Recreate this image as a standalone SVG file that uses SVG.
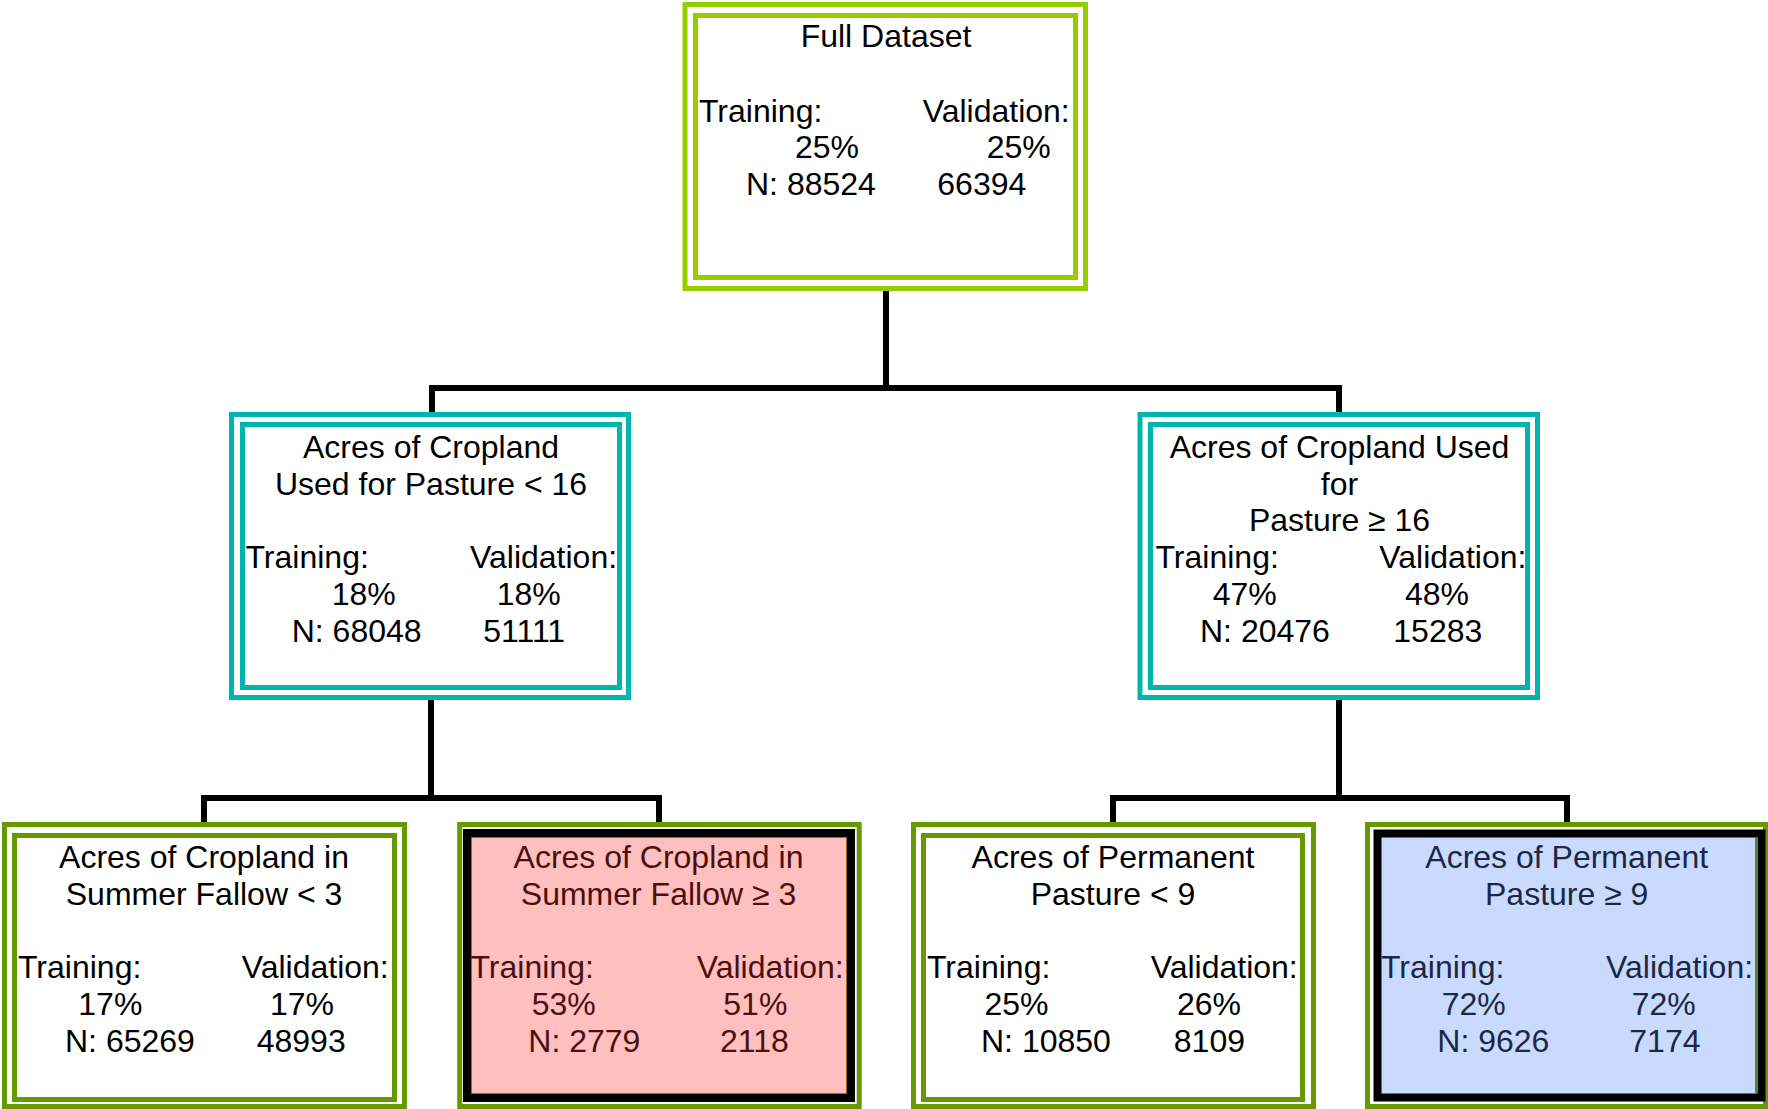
<svg xmlns="http://www.w3.org/2000/svg" width="1768" height="1109" viewBox="0 0 1768 1109">
<style>
text{font-family:"Liberation Sans",Arial,sans-serif;font-size:32px;fill:#000}
.c{text-anchor:middle}
.o{fill:none;stroke-width:5}
.lime{stroke:#99CC00}
.teal{stroke:#00B5AE}
.olive{stroke:#669900}
.wire{fill:none;stroke:#000;stroke-width:6;stroke-linecap:butt}
.pk text{fill:#4A1010}
.bl text{fill:#1B2845}
</style>
<rect width="1768" height="1109" fill="#fff"/>
<g id="connectors">
<path class="wire" d="M886 291V388M432 388H1340M432 385V412M1339 385V412"/>
<path class="wire" d="M431 700V798M204 798H659M204 795V822M659 795V822"/>
<path class="wire" d="M1339 700V798M1113 798H1567M1113 795V822M1567 795V822"/>
</g>
<g id="root">
<rect class="o lime" x="685" y="4.5" width="400.5" height="284"/>
<rect class="o lime" x="695.5" y="15.5" width="380" height="262"/>
<text class="c" x="886" y="46.7">Full Dataset</text>
<text x="699" y="121.7">Training:</text>
<text x="922.7" y="121.7">Validation:</text>
<text x="795" y="158.3">25%</text>
<text x="986.7" y="158.3">25%</text>
<text x="746" y="195">N: 88524</text>
<text x="937.3" y="195">66394</text>
</g>
<g id="left2">
<rect class="o teal" x="231.5" y="414.5" width="397" height="283"/>
<rect class="o teal" x="242.5" y="424.5" width="377" height="263"/>
<text class="c" x="431" y="458.3">Acres of Cropland</text>
<text class="c" x="431" y="495">Used for Pasture &lt; 16</text>
<text x="245.5" y="568.3">Training:</text>
<text x="470" y="568.3">Validation:</text>
<text x="331.7" y="605">18%</text>
<text x="496.7" y="605">18%</text>
<text x="291.7" y="641.7">N: 68048</text>
<text x="483.3" y="641.7">51111</text>
</g>
<g id="right2">
<rect class="o teal" x="1140" y="414.5" width="397.5" height="283"/>
<rect class="o teal" x="1150.5" y="424.5" width="377" height="263"/>
<text class="c" x="1339.5" y="458.3">Acres of Cropland Used</text>
<text class="c" x="1339.5" y="495">for</text>
<text class="c" x="1339.5" y="531">Pasture ≥ 16</text>
<text x="1155.5" y="568.3">Training:</text>
<text x="1379.3" y="568.3">Validation:</text>
<text x="1212.7" y="605">47%</text>
<text x="1405" y="605">48%</text>
<text x="1200" y="641.7">N: 20476</text>
<text x="1393.3" y="641.7">15283</text>
</g>
<g id="leaf1">
<rect class="o olive" x="4.5" y="824.5" width="400" height="282"/>
<rect class="o olive" x="14.5" y="835.5" width="380" height="264"/>
<text class="c" x="204" y="868.3">Acres of Cropland in</text>
<text class="c" x="204" y="905">Summer Fallow &lt; 3</text>
<text x="18" y="978.3">Training:</text>
<text x="241.7" y="978.3">Validation:</text>
<text x="78.3" y="1015">17%</text>
<text x="270" y="1015">17%</text>
<text x="65" y="1051.7">N: 65269</text>
<text x="256.7" y="1051.7">48993</text>
</g>
<g id="leaf2" class="pk">
<rect class="o olive" x="459.7" y="824.5" width="399.5" height="282"/>
<rect x="467" y="833" width="384" height="265" fill="#FFBFBF" stroke="#000" stroke-width="8"/>
<rect x="471.5" y="837.5" width="375" height="256" fill="none" stroke="#9A6A2A" stroke-width="1"/>
<text class="c" x="658.5" y="868.3">Acres of Cropland in</text>
<text class="c" x="658.5" y="905">Summer Fallow ≥ 3</text>
<text x="470.5" y="978.3">Training:</text>
<text x="696.7" y="978.3">Validation:</text>
<text x="531.7" y="1015">53%</text>
<text x="723.3" y="1015">51%</text>
<text x="528.3" y="1051.7">N: 2779</text>
<text x="720" y="1051.7">2118</text>
</g>
<g id="leaf3">
<rect class="o olive" x="913.5" y="824.5" width="400" height="282"/>
<rect class="o olive" x="923.5" y="835.5" width="379" height="264"/>
<text class="c" x="1113" y="868.3">Acres of Permanent</text>
<text class="c" x="1113" y="905">Pasture &lt; 9</text>
<text x="927" y="978.3">Training:</text>
<text x="1150.7" y="978.3">Validation:</text>
<text x="984.4" y="1015">25%</text>
<text x="1177" y="1015">26%</text>
<text x="981" y="1051.7">N: 10850</text>
<text x="1173.8" y="1051.7">8109</text>
</g>
<g id="leaf4" class="bl">
<rect class="o olive" x="1367.5" y="824.5" width="398" height="282"/>
<rect x="1377.5" y="833.5" width="384" height="264" fill="#CADAFF" stroke="#000" stroke-width="8"/>
<rect x="1755" y="838" width="2.5" height="255" fill="#4F8A2A"/>
<text class="c" x="1566.7" y="868.3">Acres of Permanent</text>
<text class="c" x="1566.7" y="905">Pasture ≥ 9</text>
<text x="1381" y="978.3">Training:</text>
<text x="1606" y="978.3">Validation:</text>
<text x="1441.7" y="1015">72%</text>
<text x="1631.7" y="1015">72%</text>
<text x="1437.3" y="1051.7">N: 9626</text>
<text x="1629.3" y="1051.7">7174</text>
</g>
</svg>
